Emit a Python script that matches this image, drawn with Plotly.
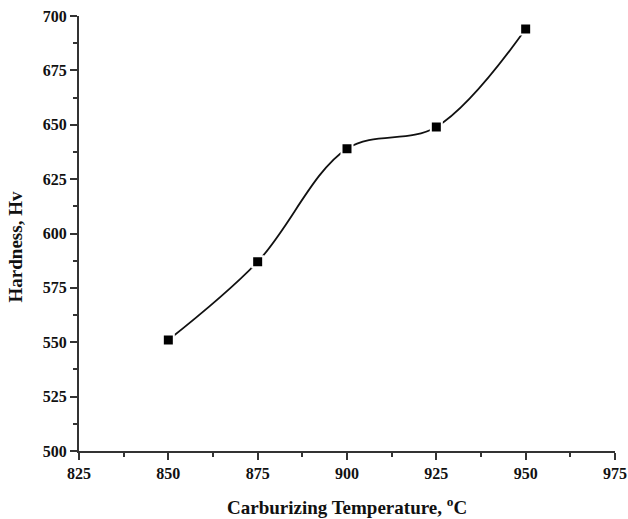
import plotly.graph_objects as go

temperature = [850, 875, 900, 925, 950]
hardness = [551, 587, 639, 649, 694]

x_ticks = [825, 850, 875, 900, 925, 950, 975]
y_ticks = [500, 525, 550, 575, 600, 625, 650, 675, 700]

x_title = "<b>Carburizing Temperature, <sup>o</sup>C</b>"
y_title = "<b>Hardness, Hv</b>"

font_family = "Liberation Serif"
ink = "#111111"

fig = go.Figure()
fig.add_trace(go.Scatter(
    x=temperature, y=hardness,
    mode="lines+markers",
    line=dict(shape="spline", smoothing=1.0, color=ink, width=1.8),
    marker=dict(symbol="square", size=11, color="black",
                line=dict(color="white", width=2)),
    showlegend=False,
))

axis_common = dict(
    showline=True, linecolor="#333333", linewidth=2,
    ticks="outside", ticklen=7, tickwidth=2, tickcolor="#333333",
    showgrid=False, zeroline=False, mirror=False, automargin=False,
    tickfont=dict(family=font_family, size=16, color=ink),
)

fig.update_xaxes(
    range=[825, 975], tickvals=x_ticks, ticktext=[f"<b>{v}</b>" for v in x_ticks],
    minor=dict(ticks="outside", ticklen=4, tickwidth=2, tickcolor="#333333", dtick=12.5, tick0=825),
    **axis_common,
)
fig.update_yaxes(
    range=[500, 700], tickvals=y_ticks, ticktext=[f"<b>{v}</b>" for v in y_ticks],
    minor=dict(ticks="outside", ticklen=4, tickwidth=2, tickcolor="#333333", dtick=12.5, tick0=500),
    **axis_common,
)

fig.add_annotation(text=x_title, xref="paper", yref="paper", x=0.5, y=-0.127,
                   xanchor="center", yanchor="middle", showarrow=False,
                   font=dict(family=font_family, size=19, color=ink))
fig.add_annotation(text=y_title, xref="paper", yref="paper", x=-0.1194, y=0.468,
                   xanchor="center", yanchor="middle", showarrow=False, textangle=-90,
                   font=dict(family=font_family, size=19, color=ink))

fig.update_layout(
    width=628, height=519,
    margin=dict(l=79, r=13, t=16, b=68),
    plot_bgcolor="white", paper_bgcolor="white",
    font=dict(family=font_family, color=ink),
)

fig.write_html("out.html", config={"displayModeBar": False},
               post_script="document.body.style.margin='0';document.body.style.overflow='hidden';")
